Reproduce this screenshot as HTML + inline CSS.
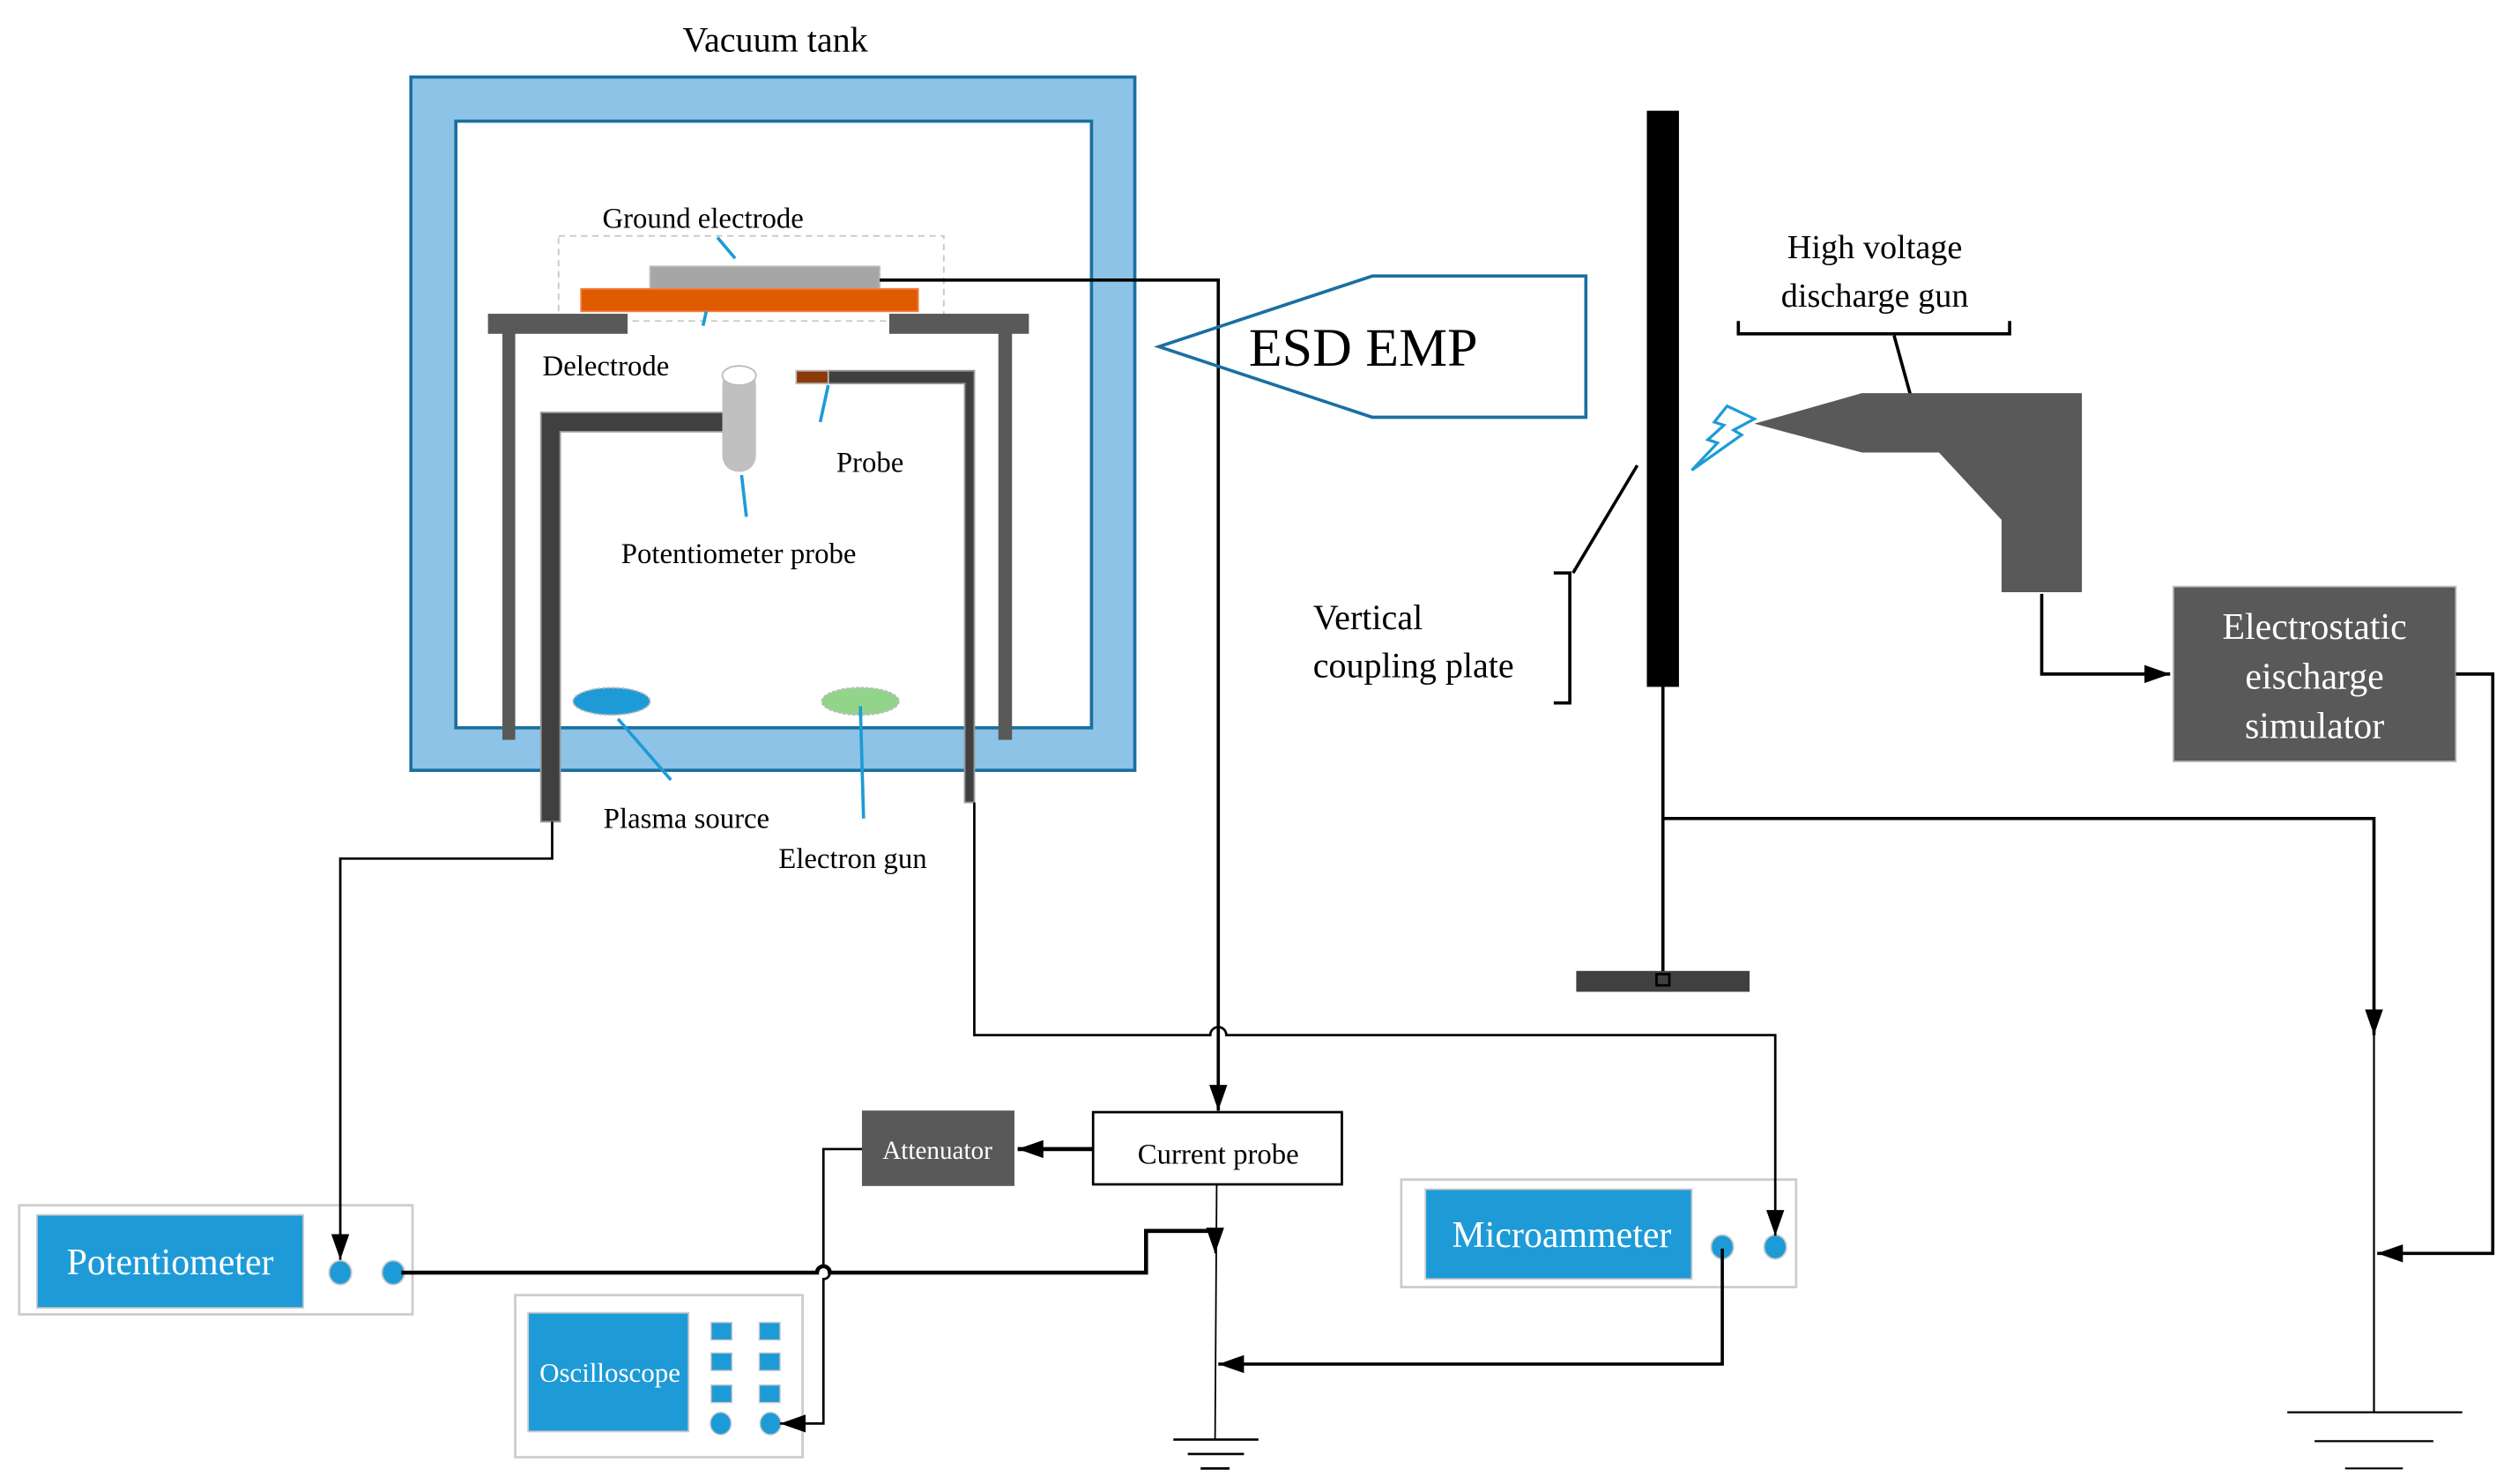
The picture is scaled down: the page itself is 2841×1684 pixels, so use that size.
<!DOCTYPE html>
<html><head><meta charset="utf-8"><style>
html,body{margin:0;padding:0;background:#fff;}
svg{display:block;}
text{font-family:"Liberation Serif",serif;fill:#000;}
</style></head><body>
<svg width="2841" height="1684" viewBox="0 0 1560 924.7" preserveAspectRatio="none" xmlns="http://www.w3.org/2000/svg">
<defs>
<marker id="b" viewBox="0 0 10 10" refX="10" refY="5" markerWidth="16" markerHeight="16" orient="auto" markerUnits="userSpaceOnUse"><path d="M0,1.5 L10,5 L0,8.5 z" fill="#000"/></marker>
</defs>
<text x="483" y="32" font-size="22" text-anchor="middle">Vacuum tank</text>
<rect x="256" y="48" width="451" height="432" fill="#8DC3E6" stroke="#1A6FA0" stroke-width="2"/>
<rect x="284" y="75.5" width="396" height="378" fill="#fff" stroke="#1A6FA0" stroke-width="2"/>
<text x="438" y="142" font-size="18" text-anchor="middle">Ground electrode</text>
<rect x="348" y="147" width="240" height="53" fill="none" stroke="#C8C8C8" stroke-dasharray="4,3"/>
<line x1="447" y1="148" x2="458" y2="161" stroke="#1E9BD7" stroke-width="2"/>
<rect x="405" y="166" width="143" height="14" fill="#A6A6A6" stroke="#BBB"/>
<rect x="362" y="180" width="210" height="14" fill="#E05A00" stroke="#F08040"/>
<line x1="440" y1="194" x2="438" y2="203" stroke="#1E9BD7" stroke-width="2"/>
<rect x="304" y="195.5" width="87" height="12.5" fill="#595959"/>
<rect x="313" y="207" width="8" height="254" fill="#595959"/>
<rect x="554" y="195.5" width="87" height="12.5" fill="#595959"/>
<rect x="622" y="207" width="8.5" height="254" fill="#595959"/>
<text x="338" y="234" font-size="18">Delectrode</text>
<path d="M337,257 H451 V269 H349 V512 H337 Z" fill="#404040" stroke="#999" stroke-width="1"/>
<rect x="450" y="230" width="21" height="64" rx="10" fill="#C0C0C0"/>
<ellipse cx="460.5" cy="234" rx="10.5" ry="6" fill="#fff" stroke="#BBB"/>
<path d="M515,231 H607 V500 H601 V239 H515 Z" fill="#404040" stroke="#999" stroke-width="1"/>
<rect x="496" y="231" width="20" height="8" fill="#8B3A0A" stroke="#bbb"/>
<line x1="516" y1="240" x2="511" y2="263" stroke="#1E9BD7" stroke-width="2"/>
<text x="521" y="294" font-size="18">Probe</text>
<line x1="462" y1="296" x2="465" y2="322" stroke="#1E9BD7" stroke-width="2"/>
<text x="387" y="351" font-size="18">Potentiometer probe</text>
<ellipse cx="381" cy="437" rx="24" ry="8.5" fill="#1E9BD7" stroke="#BBB" stroke-dasharray="2,1"/>
<ellipse cx="536" cy="437" rx="24" ry="8.5" fill="#92D48A" stroke="#BBB" stroke-dasharray="2,1"/>
<line x1="385" y1="448" x2="418" y2="486" stroke="#1E9BD7" stroke-width="2"/>
<line x1="536" y1="440" x2="538" y2="510" stroke="#1E9BD7" stroke-width="2"/>
<text x="376" y="516" font-size="18">Plasma source</text>
<text x="485" y="541" font-size="18">Electron gun</text>
<polyline points="548,174.5 759,174.5 759,692" fill="none" stroke="#000" stroke-width="2"/>
<polygon points="722,216 855,172 988,172 988,260 855,260" fill="none" stroke="#1A6FA0" stroke-width="2"/>
<text x="778" y="228" font-size="34">ESD EMP</text>
<rect x="1026" y="69" width="20" height="359" fill="#000"/>
<line x1="1020" y1="290" x2="980" y2="357" stroke="#000" stroke-width="2"/>
<polyline points="968,357 978,357 978,438 968,438" fill="none" stroke="#000" stroke-width="2"/>
<text x="818" y="392" font-size="22">Vertical</text>
<text x="818" y="422" font-size="22">coupling plate</text>
<line x1="1036" y1="428" x2="1036" y2="606" stroke="#000" stroke-width="2"/>
<rect x="982" y="605" width="108" height="13" fill="#404040"/>
<rect x="1032" y="607" width="8" height="7" fill="none" stroke="#000" stroke-width="1.5"/>
<text x="1168" y="161" font-size="21" text-anchor="middle">High voltage</text>
<text x="1168" y="191" font-size="21" text-anchor="middle">discharge gun</text>
<polyline points="1083,200 1083,208 1252,208 1252,200" fill="none" stroke="#000" stroke-width="2"/>
<line x1="1180" y1="209" x2="1191" y2="249" stroke="#000" stroke-width="2"/>
<polygon points="1093,264 1160,245 1297,245 1297,369 1247,369 1247,324 1208,282 1160,282" fill="#595959"/>
<polygon points="1076,253 1093,261 1080,268 1085,271 1054,293 1070,276 1064,274 1074,265 1068,263" fill="none" stroke="#1E9BD7" stroke-width="1.8"/>
<polyline points="1272,370 1272,420 1352,420" fill="none" stroke="#000" stroke-width="2" marker-end="url(#b)"/>
<rect x="1354" y="365.5" width="176" height="109" fill="#595959" stroke="#BBB"/>
<text x="1442" y="398" font-size="23" text-anchor="middle" style="fill:#fff">Electrostatic</text>
<text x="1442" y="429" font-size="23" text-anchor="middle" style="fill:#fff">eischarge</text>
<text x="1442" y="460" font-size="23" text-anchor="middle" style="fill:#fff">simulator</text>
<polyline points="1530,420 1553,420 1553,781 1481,781" fill="none" stroke="#000" stroke-width="2" marker-end="url(#b)"/>
<polyline points="1036,510 1479,510 1479,645" fill="none" stroke="#000" stroke-width="2" marker-end="url(#b)"/>
<line x1="1479" y1="640" x2="1479" y2="880" stroke="#000" stroke-width="1.2"/>
<line x1="1425" y1="880" x2="1534" y2="880" stroke="#000" stroke-width="1.2"/>
<line x1="1442" y1="898" x2="1516" y2="898" stroke="#000" stroke-width="1.2"/>
<line x1="1461" y1="915" x2="1497" y2="915" stroke="#000" stroke-width="1.2"/>
<!-- devices (drawn before wires) -->
<rect x="12" y="751" width="245" height="68" fill="#fff" stroke="#CCC" stroke-width="1.5"/>
<rect x="23" y="757" width="166" height="58" fill="#1E9BD7" stroke="#CCC"/>
<text x="106" y="794" font-size="23" text-anchor="middle" style="fill:#fff">Potentiometer</text>
<ellipse cx="212" cy="793" rx="7" ry="7.5" fill="#1E9BD7" stroke="#CCC"/>
<ellipse cx="245" cy="793" rx="7" ry="7.5" fill="#1E9BD7" stroke="#CCC"/>
<rect x="321" y="807" width="179" height="101" fill="#fff" stroke="#CCC" stroke-width="1.5"/>
<rect x="329" y="818" width="100" height="74" fill="#1E9BD7" stroke="#CCC"/>
<text x="380" y="861" font-size="17" text-anchor="middle" style="fill:#fff">Oscilloscope</text>
<g fill="#1E9BD7" stroke="#CCC" stroke-width="0.8">
<rect x="443" y="824" width="13" height="11"/><rect x="473" y="824" width="13" height="11"/>
<rect x="443" y="843" width="13" height="11"/><rect x="473" y="843" width="13" height="11"/>
<rect x="443" y="863" width="13" height="11"/><rect x="473" y="863" width="13" height="11"/>
<ellipse cx="449" cy="887" rx="6.5" ry="7"/><ellipse cx="480" cy="887" rx="6.5" ry="7"/>
</g>
<rect x="873" y="735" width="246" height="67" fill="#fff" stroke="#CCC" stroke-width="1.5"/>
<rect x="888" y="741" width="166" height="56" fill="#1E9BD7" stroke="#CCC"/>
<text x="973" y="777" font-size="23" text-anchor="middle" style="fill:#fff">Microammeter</text>
<ellipse cx="1073" cy="777" rx="7" ry="7.5" fill="#1E9BD7" stroke="#CCC"/>
<ellipse cx="1106" cy="777" rx="7" ry="7.5" fill="#1E9BD7" stroke="#CCC"/>
<!-- wires -->
<polyline points="344,512 344,535 212,535 212,785" fill="none" stroke="#000" stroke-width="1.5" marker-end="url(#b)"/>
<path d="M607,500 V645 H754 A5,5 0 0 1 764,645 H1106 V770" fill="none" stroke="#000" stroke-width="1.5" marker-end="url(#b)"/>
<line x1="759" y1="640" x2="759" y2="692" stroke="#000" stroke-width="1.5" marker-end="url(#b)"/>
<rect x="681" y="693" width="155" height="45" fill="#fff" stroke="#000" stroke-width="1.5"/>
<text x="759" y="725" font-size="18" text-anchor="middle">Current probe</text>
<rect x="537" y="692" width="95" height="47" fill="#595959"/>
<text x="584" y="722" font-size="16" text-anchor="middle" style="fill:#fff">Attenuator</text>
<line x1="681" y1="716" x2="634" y2="716" stroke="#000" stroke-width="2.5" marker-end="url(#b)"/>
<path d="M537,716 H513 V789 A4,4 0 0 1 513,797 V887 H486" fill="none" stroke="#000" stroke-width="1.5" marker-end="url(#b)"/>
<line x1="758" y1="738" x2="757" y2="897" stroke="#000" stroke-width="1"/>
<path d="M250,793 H509 A4,4 0 0 1 517,793 H714 V767 H757" fill="none" stroke="#000" stroke-width="2.5"/>
<line x1="757" y1="765" x2="757" y2="781" stroke="#000" stroke-width="1" marker-end="url(#b)"/>
<polyline points="1073,778 1073,850 759,850" fill="none" stroke="#000" stroke-width="2" marker-end="url(#b)"/>
<line x1="731" y1="897" x2="784" y2="897" stroke="#000" stroke-width="1.5"/>
<line x1="740" y1="906" x2="775" y2="906" stroke="#000" stroke-width="1.5"/>
<line x1="748" y1="915" x2="766" y2="915" stroke="#000" stroke-width="1.5"/>
</svg>
</body></html>
